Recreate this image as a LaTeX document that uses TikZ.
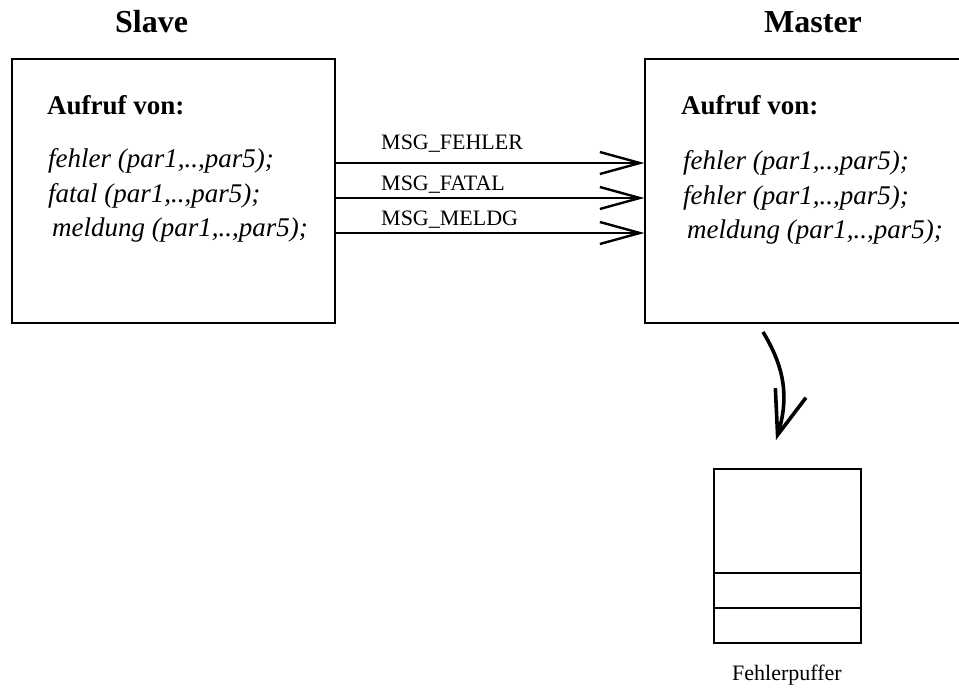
\documentclass[tikz,border=0pt]{standalone}
\usepackage{fontspec}
\setmainfont{Liberation Serif}
\usetikzlibrary{arrows.meta}
\begin{document}
\begin{tikzpicture}[x=1pt,y=-1pt,
  box/.style={draw,line width=1.2pt,rectangle,inner sep=0pt},
  title/.style={font=\fontsize{32}{36}\selectfont\bfseries,anchor=base west,inner sep=0pt},
  head/.style={font=\fontsize{27}{30}\selectfont\bfseries,anchor=base west,inner sep=0pt},
  call/.style={font=\fontsize{27}{30}\selectfont\itshape,anchor=base west,inner sep=0pt},
  msg/.style={font=\fontsize{22}{25}\selectfont,anchor=base west,inner sep=0pt},
  msgarrow/.style={line width=2.4pt,-{Straight Barb[length=40pt,width=22pt,line width=2.4pt]}},
  bufarrow/.style={line width=3.6pt,-{Straight Barb[length=44pt,width=32pt,line width=3.6pt]}}]
\clip (0,0) rectangle (959,692);
\fill[white] (0,0) rectangle (959,692);

% slave side
\node[title] (slavetitle) at (115,33) {Slave};
\node[box,minimum width=323pt,minimum height=264pt] (slave) at (173.5,191) {};
\node[head] (slavehead) at (47,115) {Aufruf von:};
\node[call] (s1) at (48,168) {fehler (par1,..,par5);};
\node[call] (s2) at (48,203) {fatal (par1,..,par5);};
\node[call] (s3) at (52,237) {meldung (par1,..,par5);};

% master side (box runs past the right border)
\node[title] (mastertitle) at (764,33) {Master};
\node[box,minimum width=340pt,minimum height=264pt] (master) at (815,191) {};
\node[head] (masterhead) at (681,115) {Aufruf von:};
\node[call] (m1) at (683,170) {fehler (par1,..,par5);};
\node[call] (m2) at (683,205) {fehler (par1,..,par5);};
\node[call] (m3) at (687,239) {meldung (par1,..,par5);};

% messages
\draw[msgarrow] (slave.east |- 0,163) -- (master.west |- 0,163);
\draw[msgarrow] (slave.east |- 0,198) -- (master.west |- 0,198);
\draw[msgarrow] (slave.east |- 0,233) -- (master.west |- 0,233);
\node[msg] (l1) at (381,150) {MSG\_FEHLER};
\node[msg] (l2) at (381,191) {MSG\_FATAL};
\node[msg] (l3) at (381,226) {MSG\_MELDG};

% error buffer
\node[box,minimum width=147pt,minimum height=174pt] (buffer) at (787.5,556) {};
\draw[line width=1.2pt] (buffer.west |- 0,573) -- (buffer.east |- 0,573);
\draw[line width=1.2pt] (buffer.west |- 0,608) -- (buffer.east |- 0,608);
\node[msg,anchor=base] (buflabel) at (787,680) {Fehlerpuffer};

\coordinate (cstart) at (763,332);
\coordinate (cend) at (776,440);
\draw[bufarrow] (cstart) .. controls (783,365) and (790,395) .. (cend);
\end{tikzpicture}
\end{document}
